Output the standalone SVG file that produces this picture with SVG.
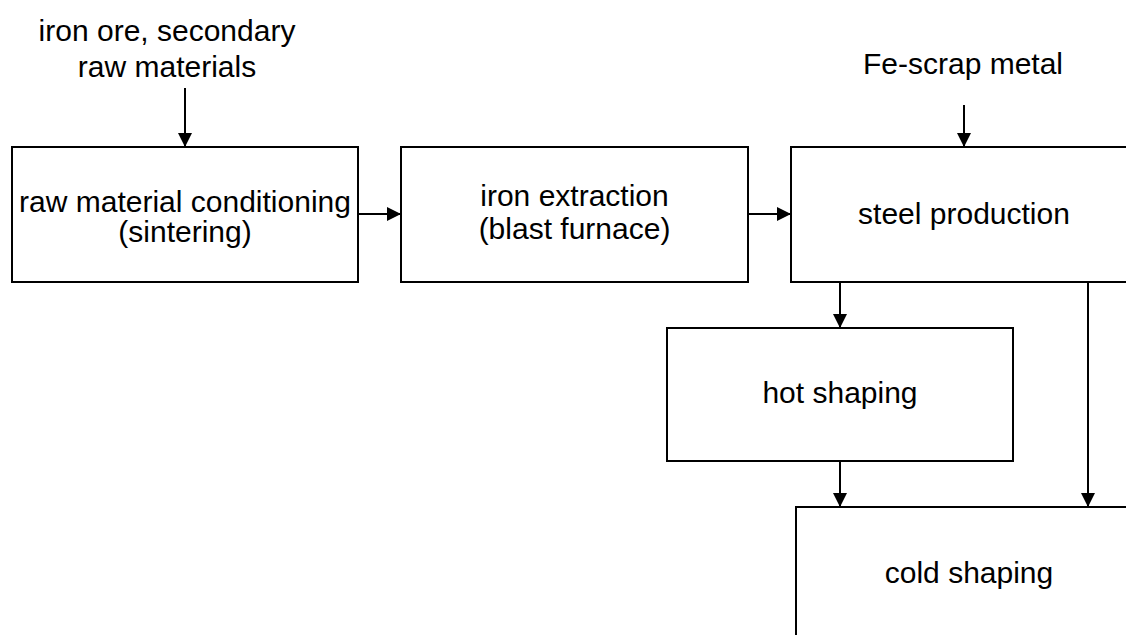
<svg xmlns="http://www.w3.org/2000/svg" width="1126" height="635" viewBox="0 0 1126 635">
  <style>
    .box { fill: #ffffff; stroke: #000000; stroke-width: 2; }
    .lbl { font-family: "Liberation Sans", Arial, sans-serif; font-size: 30px; fill: #000000; text-anchor: middle; }
    .edge { fill: none; stroke: #000000; stroke-width: 2; }
    .arr { marker-end: url(#head); }
  </style>
  <defs>
    <marker id="head" markerUnits="userSpaceOnUse" markerWidth="14" markerHeight="14" refX="14" refY="7" orient="auto">
      <path d="M0,0 L14,7 L0,14 z" fill="#000000"/>
    </marker>
  </defs>
  <rect width="1126" height="635" fill="#ffffff"/>

  <!-- input labels -->
  <g id="input-ore">
    <text class="lbl" x="167" y="41">iron ore, secondary</text>
    <text class="lbl" x="167" y="77">raw materials</text>
  </g>
  <g id="input-scrap">
    <text class="lbl" x="963" y="74">Fe-scrap metal</text>
  </g>

  <!-- process steps -->
  <g id="sintering">
    <rect class="box" x="12" y="147" width="346" height="135"/>
    <text class="lbl" x="185" y="212">raw material conditioning</text>
    <text class="lbl" x="185" y="242">(sintering)</text>
  </g>
  <g id="blast-furnace">
    <rect class="box" x="401" y="147" width="347" height="135"/>
    <text class="lbl" x="574.5" y="206">iron extraction</text>
    <text class="lbl" x="574.5" y="239">(blast furnace)</text>
  </g>
  <g id="steel-production">
    <rect class="box" x="791" y="147" width="346" height="135"/>
    <text class="lbl" x="964" y="224">steel production</text>
  </g>
  <g id="hot-shaping">
    <rect class="box" x="667" y="328" width="346" height="133"/>
    <text class="lbl" x="840" y="403">hot shaping</text>
  </g>
  <g id="cold-shaping">
    <rect class="box" x="796" y="507" width="346" height="140"/>
    <text class="lbl" x="969" y="583">cold shaping</text>
  </g>

  <!-- flows -->
  <g id="connectors">
    <line class="edge arr" x1="185" y1="88" x2="185" y2="147"/>
    <line class="edge arr" x1="964" y1="105" x2="964" y2="147"/>
    <line class="edge arr" x1="358" y1="214" x2="401" y2="214"/>
    <line class="edge arr" x1="748" y1="214" x2="791" y2="214"/>
    <line class="edge arr" x1="840" y1="282" x2="840" y2="328"/>
    <line class="edge arr" x1="840" y1="461" x2="840" y2="507"/>
    <line class="edge arr" x1="1088" y1="282" x2="1088" y2="507"/>
  </g>
</svg>
